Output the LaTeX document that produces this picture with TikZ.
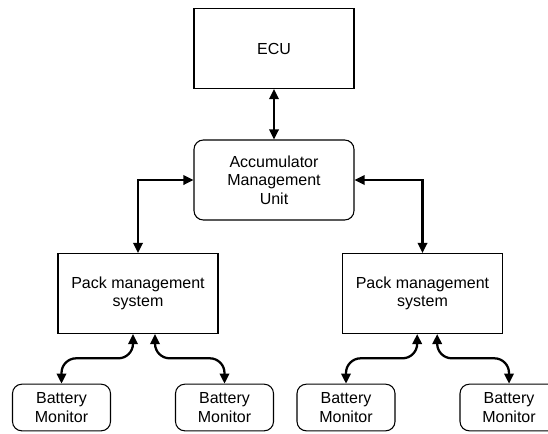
\documentclass[tikz,border=0pt]{standalone}
\usepackage{fontspec}
\setmainfont{Liberation Sans}
\usetikzlibrary{arrows.meta,calc}

\tikzset{
  unit/.style={draw,line width=0.8pt,minimum width=120pt,minimum height=60pt,align=center,font=\fontsize{12}{13.8}\selectfont},
  softunit/.style={unit,rounded corners=7pt},
  monitor/.style={draw,line width=0.8pt,rounded corners=7pt,minimum width=73.5pt,minimum height=35pt,align=center,font=\fontsize{12}{13.8}\selectfont},
  link/.style={line width=1.7pt,{Triangle[length=7.5pt,width=7pt]}-{Triangle[length=7.5pt,width=7pt]}},
}

\begin{document}
\begin{tikzpicture}[x=0.75pt,y=-0.75pt]
\clip (0,0) rectangle (548,433);
\node[unit] (ecu) at (274,48.5) {ECU};
\node[softunit] (amu) at (274,180) {Accumulator\\Management\\Unit};
\node[unit] (pmsl) at (138,293.5) {Pack management\\system};
\node[unit] (pmsr) at (422.5,293.5) {Pack management\\system};
\node[monitor] (bma) at (61.5,407.5) {Battery\\Monitor};
\node[monitor] (bmb) at (224.5,407.5) {Battery\\Monitor};
\node[monitor] (bmc) at (346,407.5) {Battery\\Monitor};
\node[monitor] (bmd) at (509,407.5) {Battery\\Monitor};
\draw[link] (ecu) -- (amu);
\draw[link] (amu.west) -| (pmsl.north);
\draw[link] (amu.east) -| (pmsr.north);
\draw[link,rounded corners=11pt] ([xshift=-3.75pt]pmsl.south) |- ([yshift=19pt]bma.north) -- (bma.north);
\draw[link,rounded corners=11pt] ([xshift=12.75pt]pmsl.south) |- ([yshift=19pt]bmb.north) -- (bmb.north);
\draw[link,rounded corners=11pt] ([xshift=-4pt]pmsr.south) |- ([yshift=19pt]bmc.north) -- (bmc.north);
\draw[link,rounded corners=11pt] ([xshift=11pt]pmsr.south) |- ([yshift=19pt]bmd.north) -- (bmd.north);
\end{tikzpicture}
\end{document}
